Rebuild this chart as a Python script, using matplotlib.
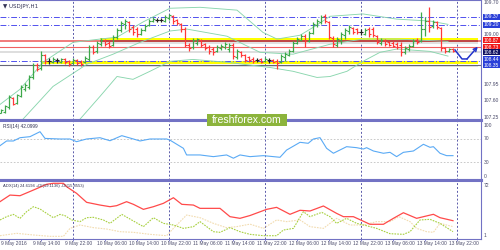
import numpy as np
import matplotlib
matplotlib.use("Agg")
import matplotlib.pyplot as plt
from matplotlib.patches import Rectangle

plt.rcParams['font.family'] = ['Liberation Sans', 'DejaVu Sans']

# hourly USDJPY bars, 9 May 04:00 .. 13 May 21:00
opens = [107.35, 107.37, 107.46, 107.65, 107.56, 107.69, 107.84, 107.88, 108.09, 108.35,
         108.28, 108.56, 108.43, 108.41, 108.45, 108.41, 108.47, 108.43, 108.39, 108.45,
         108.41, 108.41, 108.47, 108.73, 108.64, 108.79, 108.88, 108.81, 108.77, 108.94,
         109.09, 109.21, 109.26, 109.15, 109.11, 109.00, 109.09, 109.19, 109.28, 109.30,
         109.30, 109.28, 109.34, 109.38, 109.30, 109.21, 109.11, 108.77, 108.73, 108.81,
         108.88, 108.79, 108.73, 108.69, 108.64, 108.71, 108.73, 108.69, 108.77, 108.52,
         108.62, 108.56, 108.52, 108.47, 108.45, 108.47, 108.43, 108.45, 108.45, 108.43,
         108.41, 108.52, 108.56, 108.64, 108.81, 108.88, 108.96, 108.85, 109.02, 109.19,
         109.26, 109.38, 109.26, 108.92, 108.77, 108.88, 108.98, 109.07, 109.13, 109.11,
         109.04, 109.00, 109.11, 109.11, 108.96, 108.81, 108.88, 108.83, 108.81, 108.79,
         108.77, 108.62, 108.69, 108.75, 108.88, 108.85, 109.11, 109.28, 109.17, 109.26,
         109.13, 108.71, 108.64, 108.69]
highs = [107.42, 107.50, 107.71, 107.67, 107.75, 107.92, 107.97, 108.14, 108.39, 108.39,
         108.64, 108.58, 108.49, 108.52, 108.49, 108.49, 108.49, 108.45, 108.49, 108.47,
         108.45, 108.54, 108.77, 108.77, 108.85, 108.92, 108.90, 108.85, 108.98, 109.13,
         109.28, 109.32, 109.28, 109.19, 109.15, 109.13, 109.21, 109.32, 109.36, 109.34,
         109.34, 109.40, 109.43, 109.40, 109.32, 109.23, 109.15, 108.81, 108.92, 108.92,
         108.90, 108.81, 108.77, 108.73, 108.77, 108.79, 108.83, 108.81, 108.81, 108.69,
         108.64, 108.58, 108.54, 108.52, 108.49, 108.49, 108.52, 108.49, 108.47, 108.47,
         108.58, 108.62, 108.69, 108.85, 108.94, 109.00, 109.00, 109.07, 109.26, 109.32,
         109.40, 109.43, 109.28, 108.96, 108.94, 109.04, 109.13, 109.19, 109.15, 109.13,
         109.11, 109.13, 109.15, 109.15, 108.98, 108.92, 108.90, 108.85, 108.85, 108.83,
         108.83, 108.75, 108.79, 108.90, 108.92, 109.47, 109.36, 109.57, 109.30, 109.28,
         109.15, 108.73, 108.71, 108.71]
lows = [107.33, 107.33, 107.42, 107.50, 107.54, 107.67, 107.80, 107.84, 108.05, 108.22,
        108.24, 108.37, 108.37, 108.39, 108.39, 108.39, 108.37, 108.33, 108.37, 108.35,
        108.33, 108.39, 108.43, 108.58, 108.60, 108.75, 108.75, 108.71, 108.75, 108.90,
        109.04, 109.11, 109.04, 108.98, 108.94, 108.98, 109.07, 109.17, 109.26, 109.26,
        109.26, 109.26, 109.30, 109.21, 109.19, 109.04, 108.73, 108.64, 108.69, 108.77,
        108.73, 108.66, 108.58, 108.56, 108.62, 108.66, 108.69, 108.62, 108.47, 108.47,
        108.52, 108.41, 108.41, 108.39, 108.41, 108.39, 108.41, 108.39, 108.39, 108.26,
        108.39, 108.43, 108.54, 108.62, 108.79, 108.85, 108.73, 108.83, 109.00, 109.15,
        109.21, 109.23, 108.90, 108.73, 108.73, 108.79, 108.90, 109.00, 109.00, 109.00,
        108.98, 108.98, 108.94, 108.94, 108.79, 108.77, 108.75, 108.75, 108.73, 108.69,
        108.54, 108.58, 108.64, 108.73, 108.79, 108.83, 108.96, 109.04, 109.13, 109.11,
        108.64, 108.60, 108.62, 108.62]
closes = [107.40, 107.48, 107.67, 107.54, 107.71, 107.88, 107.92, 108.09, 108.35, 108.26,
          108.56, 108.43, 108.43, 108.47, 108.45, 108.47, 108.41, 108.37, 108.45, 108.39,
          108.37, 108.49, 108.73, 108.62, 108.81, 108.88, 108.79, 108.75, 108.94, 109.09,
          109.23, 109.28, 109.11, 109.04, 109.00, 109.09, 109.17, 109.28, 109.32, 109.30,
          109.30, 109.36, 109.40, 109.28, 109.23, 109.11, 108.77, 108.71, 108.88, 108.90,
          108.77, 108.71, 108.64, 108.62, 108.73, 108.75, 108.79, 108.77, 108.54, 108.64,
          108.56, 108.45, 108.45, 108.43, 108.45, 108.41, 108.47, 108.45, 108.41, 108.39,
          108.54, 108.58, 108.64, 108.81, 108.90, 108.96, 108.85, 109.02, 109.21, 109.28,
          109.36, 109.28, 108.94, 108.79, 108.90, 109.00, 109.09, 109.15, 109.04, 109.04,
          109.04, 109.09, 109.00, 108.98, 108.83, 108.88, 108.79, 108.77, 108.75, 108.73,
          108.62, 108.71, 108.75, 108.85, 108.83, 109.11, 109.28, 109.15, 109.26, 109.15,
          108.71, 108.64, 108.69, 108.64]

# Bollinger bands, read at key bars
bb_up_x = [-0.25, 4.75, 10.5, 18, 24.75, 29, 35.5, 42.25, 49.75, 59, 65.5, 69, 74.75, 78.5, 82.25, 90.5, 99, 107.25, 111.75]
bb_up = [107.52, 107.84, 108.41, 108.83, 108.90, 108.94, 109.26, 109.55, 109.57, 109.51, 109.04, 108.90, 108.98, 109.17, 109.38, 109.43, 109.32, 109.28, 109.21]
bb_mid_x = [5.5, 13, 21.5, 28, 34.75, 42.25, 46.5, 56.5, 64.75, 73, 82.25, 90.5, 99, 111.75]
bb_mid = [107.21, 107.90, 108.37, 108.58, 108.83, 109.07, 109.11, 108.96, 108.62, 108.58, 108.79, 108.90, 108.90, 108.85]
bb_lo_x = [19.75, 24.75, 29, 33, 37.25, 42.25, 48, 56.5, 67.25, 73, 79, 82.25, 86.5, 90.5, 94.75, 99, 107.25, 111.75]
bb_lo = [107.21, 107.69, 108.11, 108.05, 108.22, 108.43, 108.47, 108.41, 108.30, 108.22, 108.09, 108.11, 108.22, 108.43, 108.62, 108.69, 108.64, 108.54]

rsi_x = [-0.25, 1.4, 3.1, 4.75, 7.25, 9.75, 11, 14.75, 17.25, 18.9, 21.4, 24.75, 27.25, 30.2, 33.1, 34.75,
         37.25, 41.4, 42.25, 45.6, 46.4, 49.75, 53.1, 56.4, 58.1, 59.75, 62.25, 65.6, 69.75, 71.4, 73.9,
         74.75, 76.8, 78.1, 79.75, 81.4, 83.1, 86.4, 88.9, 90.6, 91.4, 93.1, 95.6, 97.25, 98.9, 100.6,
         103.1, 105.6, 107.25, 108.1, 109.75, 111.4, 113]
rsi = [58.5, 66.6, 66.6, 72.2, 74, 82.5, 71, 70, 70, 65.4, 70, 72.2, 67, 75.7, 70, 66.6,
       70, 70, 68, 54, 42.6, 42.6, 39.7, 42.6, 37, 42.6, 39.7, 41.4, 38.6, 51, 60.9,
       64.3, 62.6, 70, 72.3, 54, 45.5, 56.8, 55.1, 52.8, 55.1, 49.4, 45.5, 47.1, 39.7, 47.1,
       49.4, 60.9, 55.7, 56.8, 45.5, 41.4, 41.4]

adx_x = [-0.25, 2.25, 4.75, 8.1, 11.4, 13.1, 15.6, 16.4, 18.9, 21.4, 24.75, 27.25, 28.9, 31.4, 33.1, 35.6,
         38.1, 40.6, 43.1, 45.2, 48.1, 49.75, 52.25, 54.75, 57.25, 59.75, 62.25, 66.4, 68.9, 72.25, 74.75,
         77.25, 80.6, 83.9, 85.6, 88.1, 92.25, 95.6, 98.1, 100.6, 103.9, 108.1, 109.75, 113]
adx = [48.8, 58, 57.1, 65, 73, 74.4, 74.4, 69.7, 60.4, 47.9, 44.1, 41.8, 43.2, 48.8, 45.1, 38.1,
       41.8, 46.5, 54.3, 45.1, 44.1, 39.5, 39.5, 39.5, 27.9, 25.6, 29.5, 38.1, 40.9, 31.2, 36.8,
       35.8, 42.8, 32.5, 27.9, 27.9, 17.3, 17.3, 25.6, 33.4, 25.6, 31.2, 26.5, 22.3]
pdi_x = [-0.25, 1.4, 3.1, 4.75, 6.4, 8.1, 9.75, 11.4, 13.1, 14.75, 16, 17.7, 19.75, 21.4, 23.1, 25.6,
         27.25, 30.2, 33.1, 35.6, 38.1, 40.6, 43.1, 45.6, 48.1, 49.75, 53.1, 54.75, 57.25, 59.75, 62.25,
         65.6, 68.9, 70.6, 73.1, 75.6, 77.25, 80.2, 82.25, 83.9, 86.4, 88.9, 91.4, 93.9, 97.25, 100.6,
         102.25, 104.75, 107.25, 109.75, 113]
pdi = [23.3, 27.9, 31.1, 25.6, 34.9, 41.8, 38.6, 32.5, 26.5, 31.1, 29.3, 23.3, 21, 26.5, 27, 23.3,
       18.6, 31.1, 21.9, 14, 26.5, 18.6, 16.3, 11.6, 14, 21, 7, 6.1, 12.6, 7, 3.3,
       1.4, 1.4, 9.3, 11.6, 34.9, 27.9, 33.9, 27.9, 18.6, 25.6, 18.6, 15.3, 11.6, 4.2, 3.3,
       7, 23.3, 24.2, 18.6, 7]
mdi_x = [-0.25, 3.9, 8.1, 12.25, 15.6, 17.25, 19.75, 23.1, 26.4, 29.75, 33.1, 37.25, 41.4, 43.1, 46.4,
         49.75, 53.1, 56.4, 58.9, 62.25, 65.6, 68.9, 71.4, 74.75, 77.25, 80.6, 83.9, 87.25, 90.6, 93.9,
         97.25, 99.5, 102.25, 103.9, 106.4, 108.1, 109.75, 113]
mdi = [1.4, 4.7, 2.4, 0.5, 0.5, 11.6, 16.3, 12.6, 10.7, 7, 6.1, 3.3, 1.4, 11.6, 30.2,
       26.5, 18.6, 12.6, 14, 17.5, 11.6, 23.3, 21, 23.3, 14, 11.6, 25.6, 16.3, 16.3, 21,
       21, 27.9, 21, 11.6, 7, 6.1, 18.6, 14]

# analyst's forecast arrow
arrow_x = [113.5, 115.25, 116.5, 119.2]
arrow_y = [108.67, 108.48, 108.48, 108.74]

price_labels = ['109.70', '109.00', '107.95', '107.60', '107.25']
price_vals = [109.68, 109.00, 107.95, 107.60, 107.25]
boxed = [('109.37', 109.37, '#2a3fd8'), ('109.20', 109.20, '#2a3fd8'),
         ('108.87', 108.87, '#f01818'), ('108.73', 108.73, '#f01818'),
         ('108.62', 108.62, '#101060'),
         ('108.44', 108.47, '#2a3fd8'), ('108.35', 108.35, '#2a3fd8')]

date_ticks = list(range(2, 115, 8))
date_labels = ['9 May 2016', '9 May 14:00', '9 May 22:00', '10 May 06:00', '10 May 14:00',
               '10 May 22:00', '11 May 06:00', '11 May 14:00', '11 May 22:00', '12 May 06:00',
               '12 May 14:00', '12 May 22:00', '13 May 06:00', '13 May 14:00', '13 May 22:00']
day_lines = [18, 42, 66, 90, 114]

frame = '#7272c4'
txt = '#4a4a6a'
lab_fs = 3.6

fig = plt.figure(figsize=(5, 2.5), dpi=100)
ax1 = fig.add_axes([0, 0.52, 0.962, 0.48])
ax2 = fig.add_axes([0, 0.28, 0.962, 0.24])
ax3 = fig.add_axes([0, 0.044, 0.962, 0.236])

for ax in (ax1, ax2, ax3):
    ax.set_xlim(-0.25, 120)
    ax.set_xticks([])
    ax.set_yticks([])
    ax.spines['left'].set_visible(False)
    for s in ('right', 'top', 'bottom'):
        ax.spines[s].set_color(frame)
        ax.spines[s].set_linewidth(0.8)
    for d in day_lines:
        ax.axvline(d, color='#5a5aaa', lw=0.7, ls=(0, (2, 2)), zorder=1)
ax1.spines['bottom'].set_linewidth(2.2)
ax2.spines['top'].set_linewidth(2.2)
ax2.spines['bottom'].set_linewidth(2.2)
ax3.spines['top'].set_linewidth(2.2)

# ---- price panel
ax1.set_ylim(107.192, 109.724)
ax1.add_patch(Rectangle((24.75, 108.80), 94.5, 0.03, color='#e2e2e2', lw=0, zorder=1))
ax1.add_patch(Rectangle((24.75, 108.87), 94.5, 0.05, color='#ffff00', lw=0, zorder=2))
ax1.add_patch(Rectangle((24.75, 108.83), 94.5, 0.04, color='#c04848', lw=0, zorder=2))
ax1.add_patch(Rectangle((10.25, 108.32), 109, 0.03, color='#e2e2e2', lw=0, zorder=1))
ax1.add_patch(Rectangle((10.25, 108.365), 109, 0.065, color='#ffff00', lw=0, zorder=2))
ax1.axhline(108.85, color='#f07070', lw=1.3, zorder=1.5)
ax1.axhline(108.73, color='#f06060', lw=0.8, zorder=2)
ax1.axhline(108.62, color='#d8d8d8', lw=1.2, zorder=1.5)
ax1.axhline(108.35, color='#666677', lw=0.8, zorder=2.5)
for lv in (109.37, 109.20, 108.44):
    ax1.axhline(lv, color='#5050ee', lw=0.7, ls=(0, (6, 2, 1, 2)), zorder=2.5)

for bx, by in ((bb_up_x, bb_up), (bb_mid_x, bb_mid), (bb_lo_x, bb_lo)):
    ax1.plot(bx, by, color='#8ad6ae', lw=0.65, zorder=3)

for i in range(len(opens)):
    o, h, l, c = opens[i], highs[i], lows[i], closes[i]
    col = '#3ea84a' if c > o else ('#ff3838' if c < o else '#222222')
    ax1.vlines(i, l, h, color=col, lw=0.9, zorder=4)
    ax1.hlines(o, i - 0.55, i, color=col, lw=0.8, zorder=4)
    ax1.hlines(c, i, i + 0.55, color=col, lw=0.8, zorder=4)

ax1.plot(arrow_x[:-1], arrow_y[:-1], color='#2233cc', lw=1.1, zorder=5)
ax1.annotate('', xy=(arrow_x[-1], arrow_y[-1]), xytext=(arrow_x[-2], arrow_y[-2]),
             arrowprops=dict(arrowstyle='->', color='#2233cc', lw=1.1,
                             mutation_scale=6, shrinkA=0, shrinkB=0), zorder=5)

ax1.text(0.006, 0.965, '\u25bc USDJPY,H1', transform=ax1.transAxes, fontsize=4.0,
         color='#333355', va='top', family=['DejaVu Sans'])
yt = ax1.get_yaxis_transform()
for lab, v in zip(price_labels, price_vals):
    ax1.text(1.006, v, lab, transform=yt, fontsize=lab_fs, color=txt, va='center',
             clip_on=False)
for lab, v, bc in boxed:
    ax1.text(1.006, v, lab, transform=yt, fontsize=lab_fs, color='white', va='center',
             clip_on=False, bbox=dict(boxstyle='square,pad=0.1', fc=bc, ec='none'))

# ---- RSI panel
ax2.set_ylim(-0.4, 102.6)
ax2.axhline(70, color='#c0c0c0', lw=0.6, ls=(0, (2, 2)))
ax2.axhline(30, color='#c0c0c0', lw=0.6, ls=(0, (2, 2)))
ax2.plot(rsi_x, rsi, color='#5aaaf5', lw=0.8)
ax2.text(0.006, 0.93, 'RSI(14) 42.0999', transform=ax2.transAxes, fontsize=3.4,
         color='#333355', va='top')
yt2 = ax2.get_yaxis_transform()
for lab, v in (('100', 94), ('70', 70), ('30', 30), ('0', 5.3)):
    ax2.text(1.006, v, lab, transform=yt2, fontsize=lab_fs, color=txt, va='center', clip_on=False)

# ---- ADX panel
ax3.set_ylim(-3.2, 79)
ax3.plot(mdi_x, mdi, color='#f2dcb0', lw=0.8, ls=(0, (1.5, 1)))
ax3.plot(pdi_x, pdi, color='#a8d040', lw=0.8, ls=(0, (1.5, 1)))
ax3.plot(adx_x, adx, color='#ff4a4a', lw=0.9)
ax3.text(0.006, 0.94, 'ADX(14) 24.6194 +DI(19.1136) -DI(15.8553)', transform=ax3.transAxes,
         fontsize=3.0, color='#333355', va='top')
yt3 = ax3.get_yaxis_transform()
for lab, v in (('72', 72), ('1', 1)):
    ax3.text(1.006, v, lab, transform=yt3, fontsize=lab_fs, color=txt, va='center', clip_on=False)

ax3.set_xticks(date_ticks)
ax3.tick_params(axis='x', length=1.5, width=0.6, color=frame, labelbottom=False)
for t, lab in zip(date_ticks, date_labels):
    ax3.text(t - 2.1, -0.035, lab, transform=ax3.get_xaxis_transform(), fontsize=3.5,
             color=txt, ha='left', va='top', clip_on=False)

# watermark
fig.add_artist(Rectangle((207 / 500, 124 / 250), 80 / 500, 12 / 250, transform=fig.transFigure,
                         color='#8cb43c', lw=0, zorder=10))
fig.text(247 / 500, 130 / 250, 'freshforex.com', color='white', fontsize=7.6,
         ha='center', va='center', zorder=11)

fig.savefig('out.png', dpi=100)
